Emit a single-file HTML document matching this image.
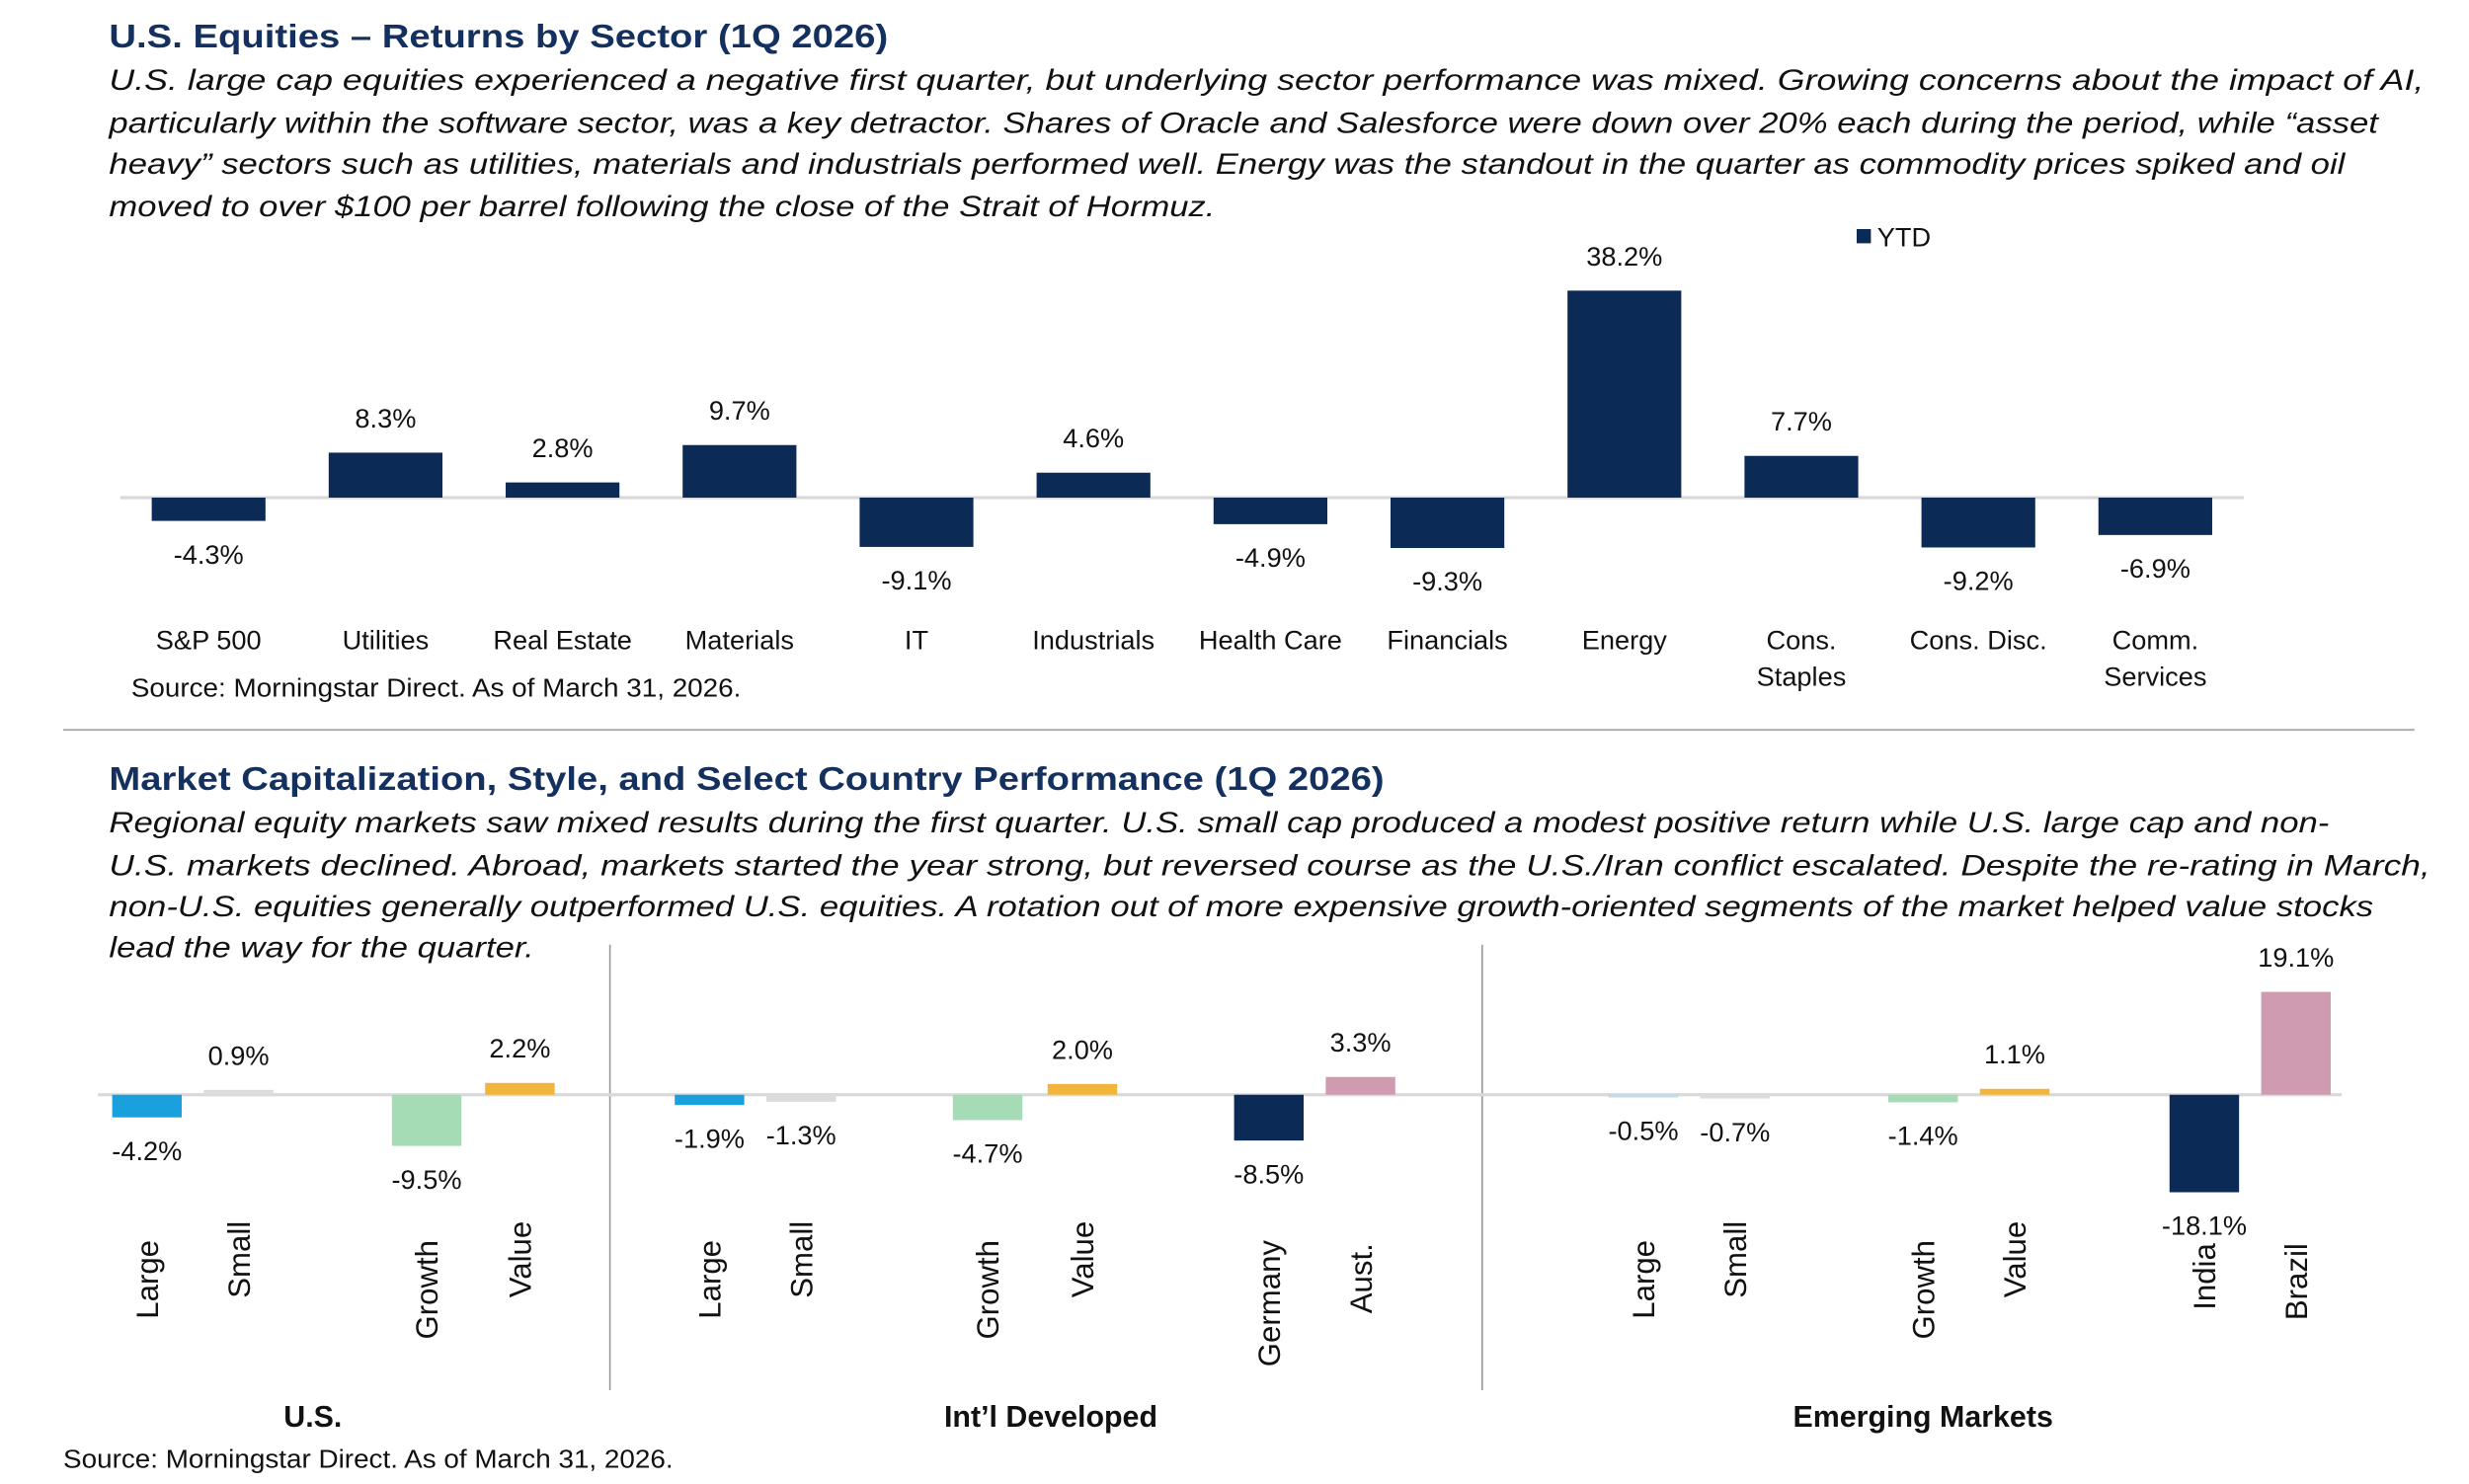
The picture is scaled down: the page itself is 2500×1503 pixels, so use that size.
<!DOCTYPE html>
<html><head><meta charset="utf-8"><style>
html,body{margin:0;padding:0;background:#fff}
svg{display:block}
text{font-family:"Liberation Sans",Arial,sans-serif;fill:#111}
.t{font-weight:bold;fill:#13305f;font-size:21px}
.p{font-style:italic;font-size:18.5px}
.v{font-size:17px}
.c{font-size:17px}
.r{font-size:19.5px}
.s{font-size:16px}
.g{font-weight:bold;font-size:19px}
</style></head><body>
<svg id="root" width="2500" height="1503" viewBox="0 0 1562.5 939.4" xmlns="http://www.w3.org/2000/svg">
<text class="t" x="69" y="30" textLength="493" lengthAdjust="spacingAndGlyphs">U.S. Equities – Returns by Sector (1Q 2026)</text>
<g>
<text class="p" x="69" y="57" textLength="1465" lengthAdjust="spacingAndGlyphs">U.S. large cap equities experienced a negative first quarter, but underlying sector performance was mixed. Growing concerns about the impact of AI,</text>
<text class="p" x="69" y="84" textLength="1436" lengthAdjust="spacingAndGlyphs">particularly within the software sector, was a key detractor. Shares of Oracle and Salesforce were down over 20% each during the period, while “asset</text>
<text class="p" x="69" y="110" textLength="1415" lengthAdjust="spacingAndGlyphs">heavy” sectors such as utilities, materials and industrials performed well. Energy was the standout in the quarter as commodity prices spiked and oil</text>
<text class="p" x="69" y="137" textLength="700" lengthAdjust="spacingAndGlyphs">moved to over $100 per barrel following the close of the Strait of Hormuz.</text>
</g>
<g>
<rect x="1175" y="145" width="9" height="9" fill="#0b2a55"/>
<text class="v" x="1188" y="156">YTD</text>
</g>
<g id="topchart"></g>
<text class="s" x="83" y="441" textLength="386" lengthAdjust="spacingAndGlyphs">Source: Morningstar Direct. As of March 31, 2026.</text>
<line x1="40" y1="462" x2="1528" y2="462" stroke="#a8a8a8" stroke-width="1.2"/>

<text class="t" x="69" y="500" textLength="807" lengthAdjust="spacingAndGlyphs">Market Capitalization, Style, and Select Country Performance (1Q 2026)</text>
<g>
<text class="p" x="69" y="527" textLength="1405" lengthAdjust="spacingAndGlyphs">Regional equity markets saw mixed results during the first quarter. U.S. small cap produced a modest positive return while U.S. large cap and non-</text>
<text class="p" x="69" y="554" textLength="1469" lengthAdjust="spacingAndGlyphs">U.S. markets declined. Abroad, markets started the year strong, but reversed course as the U.S./Iran conflict escalated. Despite the re-rating in March,</text>
<text class="p" x="69" y="580" textLength="1433" lengthAdjust="spacingAndGlyphs">non-U.S. equities generally outperformed U.S. equities. A rotation out of more expensive growth-oriented segments of the market helped value stocks</text>
<text class="p" x="69" y="606" textLength="269" lengthAdjust="spacingAndGlyphs">lead the way for the quarter.</text>
</g>
<line x1="386" y1="598" x2="386" y2="880" stroke="#999" stroke-width="1"/>
<line x1="938" y1="598" x2="938" y2="880" stroke="#999" stroke-width="1"/>
<g id="botchart"></g>
<text class="g" x="198" y="903" text-anchor="middle">U.S.</text>
<text class="g" x="665" y="903" text-anchor="middle">Int’l Developed</text>
<text class="g" x="1217" y="903" text-anchor="middle">Emerging Markets</text>
<text class="s" x="40" y="929" textLength="386" lengthAdjust="spacingAndGlyphs">Source: Morningstar Direct. As of March 31, 2026.</text>
</svg>
<script>
const sectorCategories = ["S&P 500","Utilities","Real Estate","Materials","IT","Industrials","Health Care","Financials","Energy","Cons.|Staples","Cons. Disc.","Comm.|Services"];
const sectorValues = [-4.3, 8.3, 2.8, 9.7, -9.1, 4.6, -4.9, -9.3, 38.2, 7.7, -9.2, -6.9];

const regionCategories = ["Large","Small","Growth","Value","Large","Small","Growth","Value","Germany","Aust.","Large","Small","Growth","Value","India","Brazil"];
const regionValues = [-4.2, 0.9, -9.5, 2.2, -1.9, -1.3, -4.7, 2.0, -8.5, 3.3, -0.5, -0.7, -1.4, 1.1, -18.1, 19.1];

const NS = "http://www.w3.org/2000/svg";
function mk(tag, attrs, parent){const e=document.createElementNS(NS,tag);for(const k in attrs)e.setAttribute(k,attrs[k]);parent.appendChild(e);return e;}
function fmt(v){return v.toFixed(1)+"%";}

// top chart
const topG = document.getElementById("topchart");
const y0T = 315, kT = 3.43;
const yT = v => y0T - v*kT;
const xT = i => 132 + i*112;
const zl = mk("line",{x1:76,y1:y0T,x2:1420,y2:y0T,stroke:"#d9d9d9","stroke-width":2},topG);


sectorValues.forEach((v,i)=>{
  const cx = xT(i), yv = yT(v);
  const r = mk("rect",{x:cx-36,y:Math.min(yv,y0T),width:72,height:Math.abs(yv-y0T),fill:"#0b2a55"},topG);
  
  
  const t = mk("text",{x:cx,y:v>=0?yv-16:yv+27,"text-anchor":"middle",class:"v"},topG);
  t.textContent = fmt(v);
  
  
  const parts = sectorCategories[i].split("|");
  parts.forEach((p,j)=>{
    const c = mk("text",{x:cx,y:411+j*23,"text-anchor":"middle",class:"c"},topG);
    c.textContent = p;
    
    
  });
});

// bottom chart
const botG = document.getElementById("botchart");
const y0B = 693, kB = 3.41;
const yB = v => y0B - v*kB;
const centers = [93,151,270,329,449,507,625,685,803,861,1040,1098,1217,1275,1395,1453];
const colorFor = ["#1aa0dd","#dcdcdc","#a6dcb5","#f1b53c","#1aa0dd","#dcdcdc","#a6dcb5","#f1b53c","#0b2a55","#cf9bb0","#bcdcea","#dcdcdc","#a6dcb5","#f1b53c","#0b2a55","#cf9bb0"];
const labelTop = [785,773,785,773,785,773,785,773,785,787,785,773,785,773,787,787];
const zb = mk("line",{x1:62,y1:y0B,x2:1482,y2:y0B,stroke:"#d9d9d9","stroke-width":2},botG);


regionValues.forEach((v,i)=>{
  const cx = centers[i], yv = yB(v);
  const r = mk("rect",{x:cx-22,y:Math.min(yv,y0B),width:44,height:Math.max(Math.abs(yv-y0B),1),fill:colorFor[i]},botG);
  
  
  const t = mk("text",{x:cx,y:v>=0?yv-16:yv+27,"text-anchor":"middle",class:"v"},botG);
  t.textContent = fmt(v);
  
  
  const lt = labelTop[i];
  const c = mk("text",{x:0,y:0,"text-anchor":"end",class:"r",transform:`translate(${cx+7},${lt}) rotate(-90)`},botG);
  c.textContent = regionCategories[i];
  
  
});
</script>
</body></html>
